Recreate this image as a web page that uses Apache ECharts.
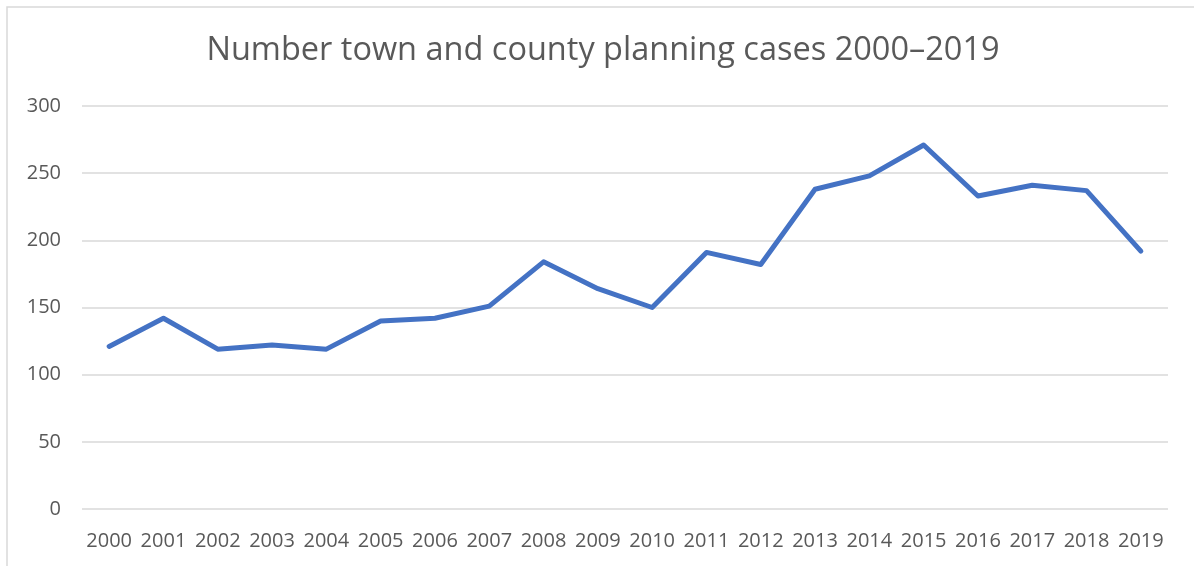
<!DOCTYPE html>
<html>
<head>
<meta charset="utf-8">
<script src="https://cdn.jsdelivr.net/npm/echarts@6/dist/echarts.min.js"></script>
<style>
  html, body { margin: 0; padding: 0; background: #fff; }
  #chart { width: 1194px; height: 566px; }
</style>
</head>
<body>
<div id="chart"></div>
<script>
// Planning cases per year, 2000–2019
const years = ['2000', '2001', '2002', '2003', '2004', '2005', '2006', '2007', '2008', '2009',
               '2010', '2011', '2012', '2013', '2014', '2015', '2016', '2017', '2018', '2019'];
const cases = [121, 142, 119, 122, 119, 140, 142, 151, 184, 164,
               150, 191, 182, 238, 248, 271, 233, 241, 237, 192];
const yTicks = { min: 0, max: 300, interval: 50 };
const titleText = 'Number town and county planning cases 2000\u20132019';

const FONT = '"Open Sans", "Noto Sans", sans-serif';
const TEXT = '#595959';

const chart = echarts.init(document.getElementById('chart'), null, { renderer: 'canvas' });
chart.setOption({
  backgroundColor: '#ffffff',
  animation: false,
  graphic: [{
    type: 'rect',
    shape: { x: 7, y: 7, width: 1200, height: 600 },
    style: { fill: 'none', stroke: '#d9d9d9', lineWidth: 1.5 },
    silent: true,
    z: -1
  }],
  title: {
    text: titleText,
    left: 598,
    textAlign: 'center',
    top: 29,
    textStyle: { fontFamily: FONT, fontSize: 32.5, fontWeight: 'normal', color: TEXT }
  },
  grid: { left: 82, right: 26, top: 106, bottom: 57, containLabel: false },
  xAxis: {
    type: 'category',
    data: years,
    boundaryGap: true,
    axisLine: { show: false },
    axisTick: { show: false },
    axisLabel: { interval: 0, margin: 22, fontFamily: FONT, fontSize: 20, color: TEXT }
  },
  yAxis: {
    type: 'value',
    min: yTicks.min,
    max: yTicks.max,
    interval: yTicks.interval,
    axisLine: { show: false },
    axisTick: { show: false },
    axisLabel: { margin: 21, fontFamily: FONT, fontSize: 20, color: TEXT },
    splitLine: { lineStyle: { color: '#d9d9d9', width: 1.5 } }
  },
  series: [{
    type: 'line',
    data: cases,
    symbol: 'none',
    lineStyle: { color: '#4472c4', width: 5, cap: 'round', join: 'round' }
  }]
});
</script>
</body>
</html>
